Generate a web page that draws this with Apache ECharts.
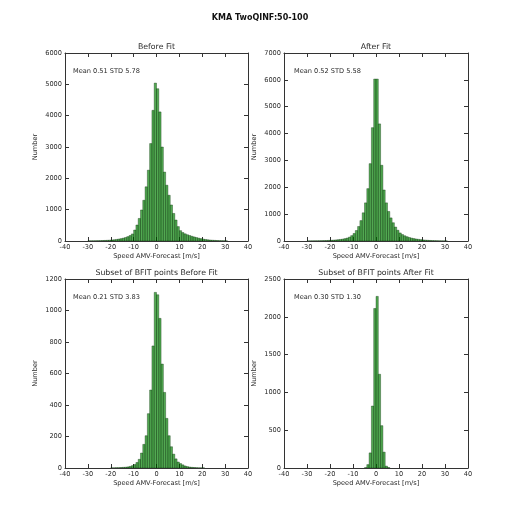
<!DOCTYPE html>
<html>
<head>
<meta charset="utf-8">
<script src="https://cdn.jsdelivr.net/npm/echarts@6/dist/echarts.min.js"></script>
<style>html,body{margin:0;padding:0;background:#fff;}#c{width:520px;height:520px;}</style>
</head>
<body>
<div id="c"></div>
<script>
// Histogram bin left edges (width 1 m/s)
const binLefts = [-30,-29,-28,-27,-26,-25,-24,-23,-22,-21,-20,-19,-18,-17,-16,-15,-14,-13,-12,-11,-10,-9,-8,-7,-6,-5,-4,-3,-2,-1,0,1,2,3,4,5,6,7,8,9,10,11,12,13,14,15,16,17,18,19,20,21,22,23,24,25,26,27,28,29,30];

const beforeFit = [5,6,7,8,10,12,15,18,22,27,33,40,50,62,75,92,112,140,175,225,350,510,720,990,1300,1730,2260,3110,4170,5040,4860,4120,3000,2200,1780,1460,1150,880,670,460,330,270,230,200,175,150,130,110,90,75,60,48,38,30,24,19,15,12,10,8,6];

const afterFit = [4,5,6,7,8,10,12,15,18,22,27,33,40,48,58,70,88,110,145,200,280,390,540,760,1050,1420,1950,2880,4220,6030,6030,4360,2820,1900,1420,1100,860,680,520,400,300,240,195,160,130,108,90,75,62,50,40,32,26,20,16,13,10,8,6,5,4];

const subsetBefore = [0,0,0,0,0,0,0,0,0,0,1,1,2,2,3,4,5,7,10,15,22,35,55,95,150,205,345,495,775,1115,1100,950,660,480,315,205,135,88,58,38,28,20,13,9,6,4,3,2,1,1,1,0,0,0,0,0,0,0,0,0,0];

const subsetAfter = [0,0,0,0,0,0,0,0,0,0,0,0,0,0,0,0,0,0,0,0,0,0,0,0,0,5,45,200,820,2110,2270,1240,560,210,25,6,0,0,0,0,0,0,0,0,0,0,0,0,0,0,0,0,0,0,0,0,0,0,0,0,0];

const panelTitles = ['Before Fit','After Fit','Subset of BFIT points Before Fit','Subset of BFIT points After Fit'];
const statTexts = ['Mean 0.51 STD 5.78','Mean 0.52 STD 5.58','Mean 0.21 STD 3.83','Mean 0.30 STD 1.30'];
const yMax = [6000, 7000, 1200, 2500];
const yStep = [1000, 1000, 200, 500];
const xMin = -40, xMax = 40, xStep = 10;
const xName = 'Speed AMV-Forecast [m/s]';
const yName = 'Number';
const figTitle = 'KMA TwoQINF:50-100';

const panelData = [beforeFit, afterFit, subsetBefore, subsetAfter];

// layout
const grids = [
  {left: 65, top: 53, width: 183, height: 188},
  {left: 284, top: 53, width: 184, height: 188},
  {left: 65, top: 279, width: 183, height: 189},
  {left: 284, top: 279, width: 184, height: 189}
];

const FONT = 'DejaVu Sans';
const TXT = '#2a2a2a';
const axisLine = {show: true, onZero: false, lineStyle: {color: '#333', width: 1}};
const tick = {show: true, inside: true, length: 4, lineStyle: {color: '#333', width: 1}};
const plain = v => String(v);

const xAxes = [], yAxes = [], series = [], graphics = [];

grids.forEach((g, i) => {
  xAxes.push({
    type: 'value', gridIndex: i, position: 'bottom', min: xMin, max: xMax, interval: xStep,
    axisLine: axisLine, axisTick: tick, splitLine: {show: false},
    axisLabel: {fontSize: 6.6, fontFamily: FONT, color: TXT, margin: 3, formatter: plain},
    name: xName, nameLocation: 'middle', nameGap: 12,
    nameTextStyle: {fontSize: 6.6, fontFamily: FONT, color: TXT}
  });
  xAxes.push({
    type: 'value', gridIndex: i, position: 'top', min: xMin, max: xMax, interval: xStep,
    axisLine: axisLine, axisTick: tick, splitLine: {show: false}, axisLabel: {show: false}
  });
  yAxes.push({
    type: 'value', gridIndex: i, position: 'left', min: 0, max: yMax[i], interval: yStep[i],
    axisLine: axisLine, axisTick: tick, splitLine: {show: false},
    axisLabel: {fontSize: 6.6, fontFamily: FONT, color: TXT, margin: 3, formatter: plain},
    name: yName, nameLocation: 'middle', nameGap: 26, nameRotate: 90,
    nameTextStyle: {fontSize: 6.6, fontFamily: FONT, color: TXT}
  });
  yAxes.push({
    type: 'value', gridIndex: i, position: 'right', min: 0, max: yMax[i], interval: yStep[i],
    axisLine: axisLine, axisTick: tick, splitLine: {show: false}, axisLabel: {show: false}
  });

  const d = panelData[i].map((v, k) => [binLefts[k], binLefts[k] + 1, v]).filter(p => p[2] > 0);
  series.push({
    type: 'custom',
    xAxisIndex: 2 * i, yAxisIndex: 2 * i,
    data: d,
    encode: {x: [0, 1], y: 2},
    clip: true,
    renderItem: function (params, api) {
      const p0 = api.coord([api.value(0), api.value(2)]);
      const p1 = api.coord([api.value(1), 0]);
      return {
        type: 'rect',
        shape: {x: p0[0], y: p0[1], width: p1[0] - p0[0], height: p1[1] - p0[1]},
        style: {fill: 'rgba(0,128,0,0.68)', stroke: 'rgba(0,40,0,0.7)', lineWidth: 0.5}
      };
    }
  });

  graphics.push({
    type: 'text', x: g.left + g.width / 2, y: g.top - 6,
    style: {text: panelTitles[i], font: '7.8px "DejaVu Sans"', fill: TXT,
      textAlign: 'center', textVerticalAlign: 'middle', align: 'center', verticalAlign: 'middle'}
  });
  graphics.push({
    type: 'text', x: g.left + (i % 2 === 0 ? 8 : 10), y: g.top + 18,
    style: {text: statTexts[i], font: '6.6px "DejaVu Sans"', fill: TXT,
      textAlign: 'left', textVerticalAlign: 'middle', align: 'left', verticalAlign: 'middle'}
  });
});

graphics.push({
  type: 'text', x: 260, y: 18,
  style: {text: figTitle, font: 'bold 8px "DejaVu Sans"', fill: '#111',
    textAlign: 'center', textVerticalAlign: 'middle', align: 'center', verticalAlign: 'middle'}
});

const chart = echarts.init(document.getElementById('c'), null, {renderer: 'canvas'});
chart.setOption({
  backgroundColor: '#ffffff',
  animation: false,
  grid: grids,
  xAxis: xAxes,
  yAxis: yAxes,
  series: series,
  graphic: graphics
});
</script>
</body>
</html>
